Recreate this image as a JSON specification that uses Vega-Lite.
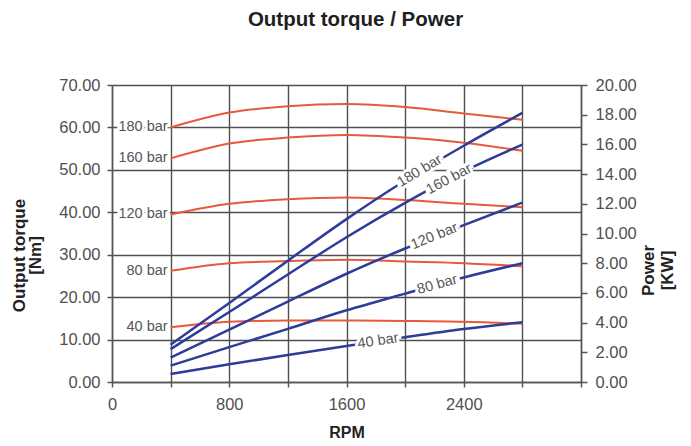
{
  "$schema": "https://vega.github.io/schema/vega-lite/v6.json",
  "width": 469,
  "height": 297,
  "autosize": {"type": "none"},
  "padding": {"left": 112, "top": 85, "right": 110, "bottom": 64},
  "background": "white",
  "title": {"text": "Output torque / Power", "font": "Liberation Sans", "fontSize": 20.5, "fontWeight": "bold", "color": "#1e1e1e", "anchor": "middle", "offset": 47, "dx": 9},
  "config": {
    "font": "Liberation Sans",
    "view": {"stroke": null},
    "axis": {
      "labelFont": "Liberation Sans", "labelFontSize": 16.5, "labelColor": "#505050",
      "titleFont": "Liberation Sans", "titleFontSize": 17, "titleFontWeight": "bold", "titleColor": "#222222",
      "domainColor": "#555555", "domainWidth": 1.5, "tickColor": "#555555", "tickWidth": 1.5,
      "gridColor": "#4f4f4f", "gridWidth": 1.4, "gridOpacity": 1
    }
  },
  "datasets": {
    "torque": [
      {"bar": "180 bar", "rpm": 400, "torque": 60.0}, {"bar": "180 bar", "rpm": 800, "torque": 63.5}, {"bar": "180 bar", "rpm": 1200, "torque": 65.0}, {"bar": "180 bar", "rpm": 1600, "torque": 65.5}, {"bar": "180 bar", "rpm": 2000, "torque": 64.8}, {"bar": "180 bar", "rpm": 2400, "torque": 63.3}, {"bar": "180 bar", "rpm": 2800, "torque": 61.8},
      {"bar": "160 bar", "rpm": 400, "torque": 52.7}, {"bar": "160 bar", "rpm": 800, "torque": 56.2}, {"bar": "160 bar", "rpm": 1200, "torque": 57.6}, {"bar": "160 bar", "rpm": 1600, "torque": 58.2}, {"bar": "160 bar", "rpm": 2000, "torque": 57.6}, {"bar": "160 bar", "rpm": 2400, "torque": 56.4}, {"bar": "160 bar", "rpm": 2800, "torque": 54.5},
      {"bar": "120 bar", "rpm": 400, "torque": 39.5}, {"bar": "120 bar", "rpm": 800, "torque": 42.0}, {"bar": "120 bar", "rpm": 1200, "torque": 43.1}, {"bar": "120 bar", "rpm": 1600, "torque": 43.5}, {"bar": "120 bar", "rpm": 2000, "torque": 42.9}, {"bar": "120 bar", "rpm": 2400, "torque": 42.0}, {"bar": "120 bar", "rpm": 2800, "torque": 41.2},
      {"bar": "80 bar", "rpm": 400, "torque": 26.2}, {"bar": "80 bar", "rpm": 800, "torque": 28.0}, {"bar": "80 bar", "rpm": 1200, "torque": 28.5}, {"bar": "80 bar", "rpm": 1600, "torque": 28.8}, {"bar": "80 bar", "rpm": 2000, "torque": 28.4}, {"bar": "80 bar", "rpm": 2400, "torque": 28.0}, {"bar": "80 bar", "rpm": 2800, "torque": 27.3},
      {"bar": "40 bar", "rpm": 400, "torque": 12.9}, {"bar": "40 bar", "rpm": 800, "torque": 14.2}, {"bar": "40 bar", "rpm": 1200, "torque": 14.5}, {"bar": "40 bar", "rpm": 1600, "torque": 14.5}, {"bar": "40 bar", "rpm": 2000, "torque": 14.4}, {"bar": "40 bar", "rpm": 2400, "torque": 14.2}, {"bar": "40 bar", "rpm": 2800, "torque": 13.7}
    ],
    "power": [
      {"bar": "180 bar", "rpm": 400, "power": 2.51}, {"bar": "180 bar", "rpm": 800, "power": 5.32}, {"bar": "180 bar", "rpm": 1200, "power": 8.17}, {"bar": "180 bar", "rpm": 1600, "power": 10.97}, {"bar": "180 bar", "rpm": 2000, "power": 13.57}, {"bar": "180 bar", "rpm": 2400, "power": 15.91}, {"bar": "180 bar", "rpm": 2800, "power": 18.12},
      {"bar": "160 bar", "rpm": 400, "power": 2.21}, {"bar": "160 bar", "rpm": 800, "power": 4.71}, {"bar": "160 bar", "rpm": 1200, "power": 7.24}, {"bar": "160 bar", "rpm": 1600, "power": 9.75}, {"bar": "160 bar", "rpm": 2000, "power": 12.06}, {"bar": "160 bar", "rpm": 2400, "power": 14.18}, {"bar": "160 bar", "rpm": 2800, "power": 15.98},
      {"bar": "120 bar", "rpm": 400, "power": 1.65}, {"bar": "120 bar", "rpm": 800, "power": 3.52}, {"bar": "120 bar", "rpm": 1200, "power": 5.42}, {"bar": "120 bar", "rpm": 1600, "power": 7.29}, {"bar": "120 bar", "rpm": 2000, "power": 8.99}, {"bar": "120 bar", "rpm": 2400, "power": 10.56}, {"bar": "120 bar", "rpm": 2800, "power": 12.08},
      {"bar": "80 bar", "rpm": 400, "power": 1.10}, {"bar": "80 bar", "rpm": 800, "power": 2.35}, {"bar": "80 bar", "rpm": 1200, "power": 3.58}, {"bar": "80 bar", "rpm": 1600, "power": 4.83}, {"bar": "80 bar", "rpm": 2000, "power": 5.95}, {"bar": "80 bar", "rpm": 2400, "power": 7.04}, {"bar": "80 bar", "rpm": 2800, "power": 8.00},
      {"bar": "40 bar", "rpm": 400, "power": 0.54}, {"bar": "40 bar", "rpm": 800, "power": 1.19}, {"bar": "40 bar", "rpm": 1200, "power": 1.82}, {"bar": "40 bar", "rpm": 1600, "power": 2.43}, {"bar": "40 bar", "rpm": 2000, "power": 3.02}, {"bar": "40 bar", "rpm": 2400, "power": 3.57}, {"bar": "40 bar", "rpm": 2800, "power": 4.02}
    ],
    "torqueLabels": [
      {"bar": "180 bar", "rpm": 400, "torque": 60.0},
      {"bar": "160 bar", "rpm": 400, "torque": 52.7},
      {"bar": "120 bar", "rpm": 400, "torque": 39.5},
      {"bar": "80 bar", "rpm": 400, "torque": 26.2},
      {"bar": "40 bar", "rpm": 400, "torque": 12.9}
    ],
    "powerLabels": [
      {"bar": "180 bar", "rpm": 2100, "power": 14.2},
      {"bar": "160 bar", "rpm": 2300, "power": 13.65},
      {"bar": "120 bar", "rpm": 2200, "power": 9.8},
      {"bar": "80 bar", "rpm": 2220, "power": 6.55},
      {"bar": "40 bar", "rpm": 1815, "power": 2.75}
    ]
  },
  "encoding": {
    "x": {
      "field": "rpm", "type": "quantitative", "title": "RPM",
      "scale": {"domain": [0, 3200], "nice": false},
      "axis": {
        "orient": "bottom", "values": [0, 400, 800, 1200, 1600, 2000, 2400, 2800, 3200],
        "labelExpr": "datum.value % 800 === 0 && datum.value < 3200 ? datum.value : ''",
        "grid": true, "tickSize": 5, "labelPadding": 9, "titlePadding": 12, "titleFontSize": 16, "labelFlush": false
      }
    }
  },
  "layer": [
    {
      "encoding": {
        "y": {
          "field": "torque", "type": "quantitative", "title": ["Output torque", "[Nm]"],
          "scale": {"domain": [0, 70], "nice": false},
          "axis": {
            "orient": "left", "values": [0, 10, 20, 30, 40, 50, 60, 70], "format": ".2f", "grid": true,
            "tickSize": 5, "labelPadding": 7, "titleAngle": 270, "titleX": -93, "titleY": 170,
            "titleAlign": "center", "titleBaseline": "middle", "titleLineHeight": 16
          }
        }
      },
      "layer": [
        {
          "data": {"name": "torque"},
          "mark": {"type": "line", "color": "#e8593a", "strokeWidth": 2, "interpolate": "monotone"},
          "encoding": {"detail": {"field": "bar"}}
        },
        {
          "data": {"name": "torqueLabels"},
          "mark": {"type": "text", "align": "right", "baseline": "middle", "dx": -3, "fontSize": 14.5, "fill": "white", "stroke": "white", "strokeWidth": 5},
          "encoding": {"text": {"field": "bar"}}
        },
        {
          "data": {"name": "torqueLabels"},
          "mark": {"type": "text", "align": "right", "baseline": "middle", "dx": -3, "fontSize": 14.5, "color": "#555555"},
          "encoding": {"text": {"field": "bar"}}
        }
      ]
    },
    {
      "encoding": {
        "y": {
          "field": "power", "type": "quantitative", "title": ["Power", "[KW]"],
          "scale": {"domain": [0, 20], "nice": false},
          "axis": {
            "orient": "right", "values": [0, 2, 4, 6, 8, 10, 12, 14, 16, 18, 20], "format": ".2f", "grid": false,
            "tickSize": 6, "labelPadding": 8, "titleAngle": 270, "titleX": 67, "titleY": 185,
            "titleAlign": "center", "titleBaseline": "middle", "titleLineHeight": 19
          }
        }
      },
      "layer": [
        {
          "data": {"name": "power"},
          "mark": {"type": "line", "color": "#2c3c98", "strokeWidth": 2.5, "interpolate": "monotone"},
          "encoding": {"detail": {"field": "bar"}}
        },
        {"data": {"name": "powerLabels"}, "transform": [{"filter": "datum.bar === '180 bar'"}], "mark": {"type": "text", "angle": -31, "fontSize": 14.5, "baseline": "middle", "fill": "white", "stroke": "white", "strokeWidth": 6}, "encoding": {"text": {"field": "bar"}}},
        {"data": {"name": "powerLabels"}, "transform": [{"filter": "datum.bar === '160 bar'"}], "mark": {"type": "text", "angle": -28, "fontSize": 14.5, "baseline": "middle", "fill": "white", "stroke": "white", "strokeWidth": 6}, "encoding": {"text": {"field": "bar"}}},
        {"data": {"name": "powerLabels"}, "transform": [{"filter": "datum.bar === '120 bar'"}], "mark": {"type": "text", "angle": -22, "fontSize": 14.5, "baseline": "middle", "fill": "white", "stroke": "white", "strokeWidth": 6}, "encoding": {"text": {"field": "bar"}}},
        {"data": {"name": "powerLabels"}, "transform": [{"filter": "datum.bar === '80 bar'"}], "mark": {"type": "text", "angle": -15.5, "fontSize": 14.5, "baseline": "middle", "fill": "white", "stroke": "white", "strokeWidth": 6}, "encoding": {"text": {"field": "bar"}}},
        {"data": {"name": "powerLabels"}, "transform": [{"filter": "datum.bar === '40 bar'"}], "mark": {"type": "text", "angle": -8.5, "fontSize": 14.5, "baseline": "middle", "fill": "white", "stroke": "white", "strokeWidth": 6}, "encoding": {"text": {"field": "bar"}}},
        {"data": {"name": "powerLabels"}, "transform": [{"filter": "datum.bar === '180 bar'"}], "mark": {"type": "text", "angle": -31, "fontSize": 14.5, "baseline": "middle", "color": "#555555"}, "encoding": {"text": {"field": "bar"}}},
        {"data": {"name": "powerLabels"}, "transform": [{"filter": "datum.bar === '160 bar'"}], "mark": {"type": "text", "angle": -28, "fontSize": 14.5, "baseline": "middle", "color": "#555555"}, "encoding": {"text": {"field": "bar"}}},
        {"data": {"name": "powerLabels"}, "transform": [{"filter": "datum.bar === '120 bar'"}], "mark": {"type": "text", "angle": -22, "fontSize": 14.5, "baseline": "middle", "color": "#555555"}, "encoding": {"text": {"field": "bar"}}},
        {"data": {"name": "powerLabels"}, "transform": [{"filter": "datum.bar === '80 bar'"}], "mark": {"type": "text", "angle": -15.5, "fontSize": 14.5, "baseline": "middle", "color": "#555555"}, "encoding": {"text": {"field": "bar"}}},
        {"data": {"name": "powerLabels"}, "transform": [{"filter": "datum.bar === '40 bar'"}], "mark": {"type": "text", "angle": -8.5, "fontSize": 14.5, "baseline": "middle", "color": "#555555"}, "encoding": {"text": {"field": "bar"}}}
      ]
    }
  ],
  "resolve": {"scale": {"y": "independent"}}
}
